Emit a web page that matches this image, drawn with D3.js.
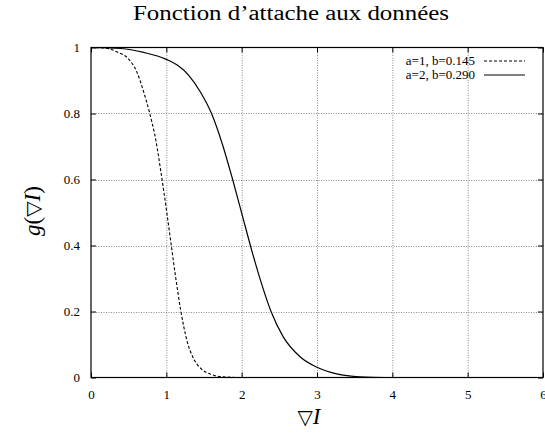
<!DOCTYPE html>
<html>
<head>
<meta charset="utf-8">
<script src="https://cdn.jsdelivr.net/npm/d3@7"></script>
<style>
  html, body { margin: 0; padding: 0; background: #fff; }
</style>
</head>
<body>
<svg id="chart" width="545" height="438"></svg>
<script>
// Sampled curve g(∇I) for two parameter sets
const seriesNames = ["a=1, b=0.145", "a=2, b=0.290"];
const dashedX = [0, 0.2, 0.36, 0.5, 0.6, 0.7, 0.78, 0.86, 0.93, 1.0, 1.06, 1.12, 1.19, 1.27, 1.36, 1.46, 1.6, 1.75, 2.0, 6];
const dashedY = [1, 0.998, 0.985, 0.965, 0.93, 0.865, 0.80, 0.72, 0.62, 0.51, 0.41, 0.31, 0.205, 0.115, 0.058, 0.027, 0.009, 0.002, 0, 0];
const solidX = [0, 0.4, 0.7, 1.0, 1.15, 1.3, 1.45, 1.6, 1.74, 1.88, 2.01, 2.14, 2.27, 2.39, 2.55, 2.775, 3.0, 3.26, 3.57, 3.9, 6];
const solidY = [1, 0.997, 0.985, 0.964, 0.946, 0.915, 0.866, 0.80, 0.71, 0.60, 0.49, 0.38, 0.28, 0.20, 0.124, 0.063, 0.031, 0.011, 0.002, 0, 0];
const xTicks = [0, 1, 2, 3, 4, 5, 6];
const yTicks = [0, 0.2, 0.4, 0.6, 0.8, 1];
const yTickLabels = ["0", "0.2", "0.4", "0.6", "0.8", "1"];

const SERIF = "'Liberation Serif', 'Times New Roman', Times, 'DejaVu Serif', serif";

const svg = d3.select("#chart");
const plotL = 91, plotR = 543, plotT = 47.5, plotB = 377.5;

const x = d3.scaleLinear().domain([0, 6]).range([plotL, plotR]);
const y = d3.scaleLinear().domain([0, 1]).range([plotB, plotT]);

// grid
const grid = svg.append("g");
grid.selectAll("line.gx").data(xTicks.slice(1, -1)).join("line")
  .attr("x1", d => x(d) + 0.5).attr("x2", d => x(d) + 0.5)
  .attr("y1", plotT).attr("y2", plotB)
  .attr("stroke", "#888").attr("stroke-width", 1).attr("stroke-dasharray", "1,1.5");
grid.selectAll("line.gy").data(yTicks.slice(1, -1)).join("line")
  .attr("y1", d => Math.round(y(d)) + 0.5).attr("y2", d => Math.round(y(d)) + 0.5)
  .attr("x1", plotL).attr("x2", plotR)
  .attr("stroke", "#888").attr("stroke-width", 1).attr("stroke-dasharray", "1,1.5");

// axes with inward ticks on all four sides
const tickLen = 5;
svg.append("g").attr("transform", `translate(0,${plotB})`)
  .call(d3.axisBottom(x).tickValues(xTicks).tickSize(-tickLen).tickPadding(12).tickFormat(d3.format("d")))
  .call(g => g.select(".domain").remove())
  .call(g => g.selectAll("text").style("font-family", SERIF).style("font-size", "13px"));
svg.append("g").attr("transform", `translate(0,${plotT})`)
  .call(d3.axisTop(x).tickValues(xTicks).tickSize(-tickLen).tickFormat(""))
  .call(g => g.select(".domain").remove());
svg.append("g").attr("transform", `translate(${plotL},0)`)
  .call(d3.axisLeft(y).tickValues(yTicks).tickSize(-tickLen).tickPadding(11).tickFormat((d, i) => yTickLabels[i]))
  .call(g => g.select(".domain").remove())
  .call(g => g.selectAll("text").style("font-family", SERIF).style("font-size", "13px"));
svg.append("g").attr("transform", `translate(${plotR},0)`)
  .call(d3.axisRight(y).tickValues(yTicks).tickSize(-tickLen).tickFormat(""))
  .call(g => g.select(".domain").remove());

// frame
svg.append("rect").attr("x", plotL).attr("y", plotT)
  .attr("width", plotR - plotL).attr("height", plotB - plotT)
  .attr("fill", "none").attr("stroke", "#000").attr("stroke-width", 1.2);

// curves
const line = d3.line().x(d => x(d[0])).y(d => y(d[1])).curve(d3.curveMonotoneX);
const dashed = dashedX.map((v, i) => [v, dashedY[i]]);
const solid = solidX.map((v, i) => [v, solidY[i]]);
svg.append("path").datum(dashed).attr("d", line)
  .attr("fill", "none").attr("stroke", "#000").attr("stroke-width", 1.1).attr("stroke-dasharray", "3,2");
svg.append("path").datum(solid).attr("d", line)
  .attr("fill", "none").attr("stroke", "#000").attr("stroke-width", 1.2);

// legend
const legend = svg.append("g");
const styles = ["3,2", null];
seriesNames.forEach((name, i) => {
  const yy = 65 + i * 14;
  legend.append("text").attr("x", 475).attr("y", yy).attr("text-anchor", "end")
    .style("font-family", SERIF).style("font-size", "13px").text(name);
  legend.append("line").attr("x1", 484).attr("x2", 525).attr("y1", yy - 4).attr("y2", yy - 4)
    .attr("stroke", "#000").attr("stroke-width", 1.1)
    .attr("stroke-dasharray", styles[i]);
});

// title and axis labels
svg.append("text").attr("x", 291).attr("y", 20).attr("text-anchor", "middle")
  .style("font-family", SERIF).style("font-size", "20px").style("font-weight", "normal")
  .attr("textLength", 316).attr("lengthAdjust", "spacingAndGlyphs")
  .text("Fonction d’attache aux données");

const xl = svg.append("text").attr("x", 309).attr("y", 424).attr("text-anchor", "middle")
  .style("font-family", SERIF).style("font-size", "23px");
xl.append("tspan").style("font-family", "'DejaVu Sans'").style("font-size", "20px").text("▽");
xl.append("tspan").style("font-style", "italic").text("I");

const yl = svg.append("text").attr("transform", "translate(40,211) rotate(-90)")
  .attr("text-anchor", "middle").style("font-family", SERIF).style("font-size", "23px");
yl.append("tspan").style("font-style", "italic").text("g");
yl.append("tspan").text("(");
yl.append("tspan").style("font-family", "'DejaVu Sans'").style("font-size", "20px").text("▽");
yl.append("tspan").style("font-style", "italic").text("I");
yl.append("tspan").text(")");
</script>
</body>
</html>
